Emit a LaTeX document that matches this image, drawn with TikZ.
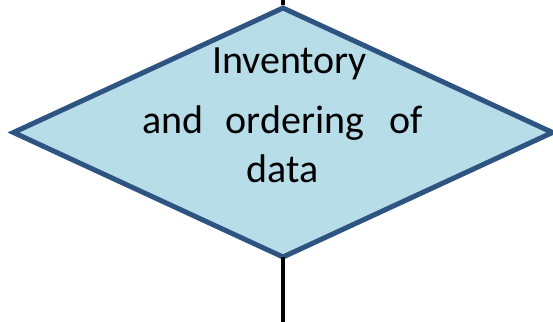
\documentclass[tikz,border=0pt]{standalone}
\usepackage{fontspec}
\setmainfont{Carlito}
\usetikzlibrary{shapes.geometric}
\definecolor{boxfill}{RGB}{183,221,232}
\definecolor{boxedge}{RGB}{46,84,130}
\begin{document}
\begin{tikzpicture}[x=1pt,y=1pt,decision/.style={shape=diamond,draw=boxedge,fill=boxfill,line width=5pt,inner sep=0pt,outer sep=0pt,minimum width=539pt,minimum height=249pt},flow/.style={draw=black,line width=4pt},caption/.style={align=center,inner sep=0pt,font=\fontsize{40}{49}\selectfont}]
\useasboundingbox (0,0) rectangle (553,321);
\def\cx{283};
\def\cy{188.5};

\coordinate (in) at (\cx,330);
\coordinate (out) at (\cx,-5);
\node[decision] (D) at (\cx,\cy) {};
\draw[flow,shorten >=3pt] (in) -- (D.north);
\draw[flow] (D.south) -- (out);

\node[caption,anchor=north] (T) at (\cx-0.5,273.8) {\hspace*{14pt}Inventory\\[11pt]and\hspace{22pt}ordering\hspace{25pt}of\\data};
\end{tikzpicture}
\end{document}
